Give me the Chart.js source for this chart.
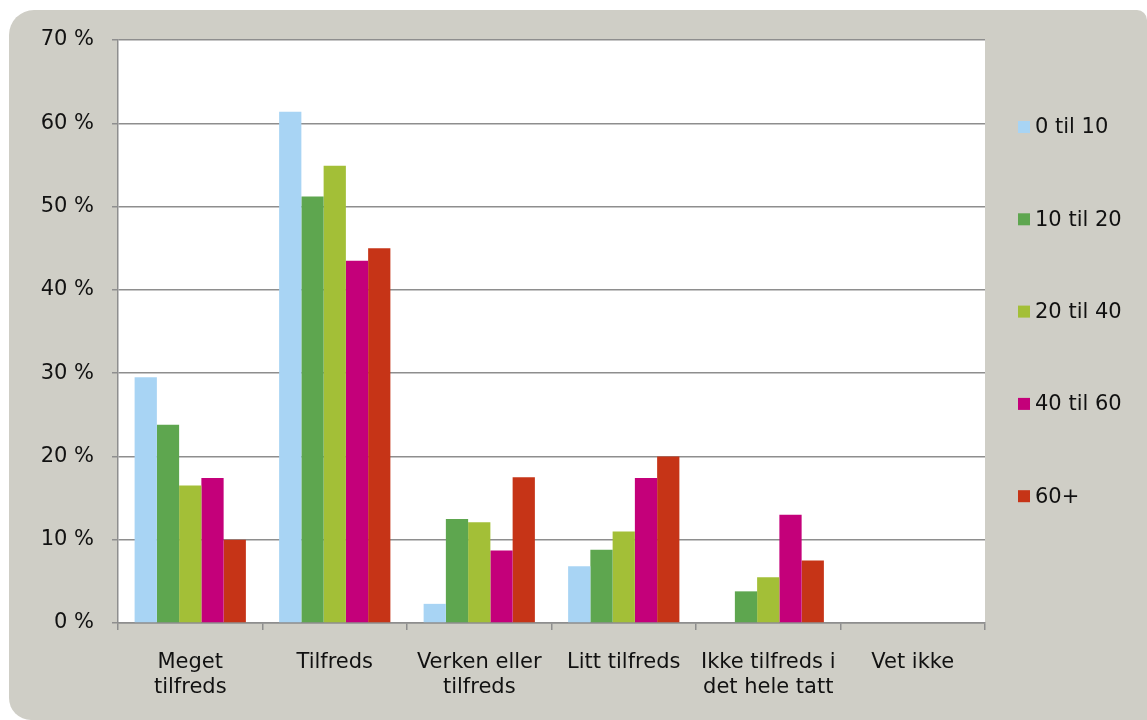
<!DOCTYPE html>
<html lang="no">
<head>
<meta charset="utf-8">
<title>Tilfredshet etter alder</title>
<script src="https://cdn.jsdelivr.net/npm/chart.js@4.4.1/dist/chart.umd.min.js"></script>
<style>
  html, body { margin: 0; padding: 0; background: #fff; }
  #wrap { position: relative; width: 1147px; height: 720px; overflow: hidden; }
  #card {
    position: absolute; left: 9px; top: 10px; width: 1138px; height: 710px;
    background: #cfcec6; border-radius: 25px 10px 0 22px;
  }
  #wrap canvas { position: absolute; left: 0; top: 0; }
</style>
</head>
<body>
<div id="wrap">
  <div id="card"></div>
  <canvas id="chart" width="1147" height="720"></canvas>
</div>
<script>
// ---------- DATA ----------
const categories = [
  ["Meget", "tilfreds"],
  "Tilfreds",
  ["Verken eller", "tilfreds"],
  "Litt tilfreds",
  ["Ikke tilfreds i", "det hele tatt"],
  "Vet ikke",
];
const seriesNames = ["0 til 10", "10 til 20", "20 til 40", "40 til 60", "60+"];
const age0to10  = [29.5, 61.4,  2.3,  6.8,  0,   0];
const age10to20 = [23.8, 51.2, 12.5,  8.8,  3.8, 0];
const age20to40 = [16.5, 54.9, 12.1, 11.0,  5.5, 0];
const age40to60 = [17.4, 43.5,  8.7, 17.4, 13.0, 0];
const age60plus = [10.0, 45.0, 17.5, 20.0,  7.5, 0];
const yTicks = [0, 10, 20, 30, 40, 50, 60, 70];

const colors = ["#a8d4f4", "#5ea64f", "#a3bf37", "#c4007a", "#c63417"];
const values = [age0to10, age10to20, age20to40, age40to60, age60plus];

const FONT = '"DejaVu Sans", Verdana, sans-serif';
const GRID = "#8e8e8e";

// white plot area on the grey card
const plotBackground = {
  id: "plotBackground",
  beforeDraw(chart) {
    const { ctx, chartArea: a } = chart;
    ctx.save();
    ctx.fillStyle = "#fff";
    ctx.fillRect(a.left, a.top, a.right - a.left, a.bottom - a.top);
    ctx.restore();
  },
};

// legend column on the right, one entry per series
const sideLegend = {
  id: "sideLegend",
  afterDraw(chart) {
    const { ctx, chartArea: a } = chart;
    ctx.save();
    ctx.font = "21px " + FONT;
    ctx.textBaseline = "middle";
    ctx.textAlign = "left";
    chart.data.datasets.forEach((ds, i) => {
      const y = a.top + 87 + i * 92.3;
      ctx.fillStyle = ds.backgroundColor;
      ctx.fillRect(a.right + 33, y - 6, 12, 12);
      ctx.fillStyle = "#111";
      ctx.fillText(ds.label, a.right + 50, y + 1);
    });
    ctx.restore();
  },
};

const ctx = document.getElementById("chart").getContext("2d");

new Chart(ctx, {
  type: "bar",
  data: {
    labels: categories,
    datasets: seriesNames.map((name, i) => ({
      label: name,
      data: values[i],
      backgroundColor: colors[i],
      borderWidth: 0,
      categoryPercentage: 0.77,
      barPercentage: 1.0,
    })),
  },
  options: {
    responsive: false,
    animation: false,
    layout: { padding: { top: 40, right: 162, bottom: 0, left: 0 } },
    plugins: {
      legend: { display: false },
      tooltip: { enabled: false },
    },
    scales: {
      x: {
        offset: true,
        grid: {
          offset: true,
          drawOnChartArea: false,
          drawTicks: true,
          tickLength: 7,
          color: GRID,
          lineWidth: 1.5,
        },
        border: { color: GRID, width: 1.5 },
        ticks: {
          color: "#111",
          font: { family: FONT, size: 21, lineHeight: 1.19 },
          padding: 20,
          maxRotation: 0,
          autoSkip: false,
        },
        afterFit: (s) => { s.height = 97; },
      },
      y: {
        min: yTicks[0],
        max: yTicks[yTicks.length - 1],
        grid: {
          color: GRID,
          lineWidth: 1.5,
          drawTicks: true,
          tickLength: 6,
        },
        border: { color: GRID, width: 1.5 },
        ticks: {
          stepSize: 10,
          color: "#111",
          font: { family: FONT, size: 21 },
          padding: 18,
          callback: (v) => v + " %",
        },
        afterFit: (s) => { s.width = 118; },
      },
    },
  },
  plugins: [plotBackground, sideLegend],
});
</script>
</body>
</html>
